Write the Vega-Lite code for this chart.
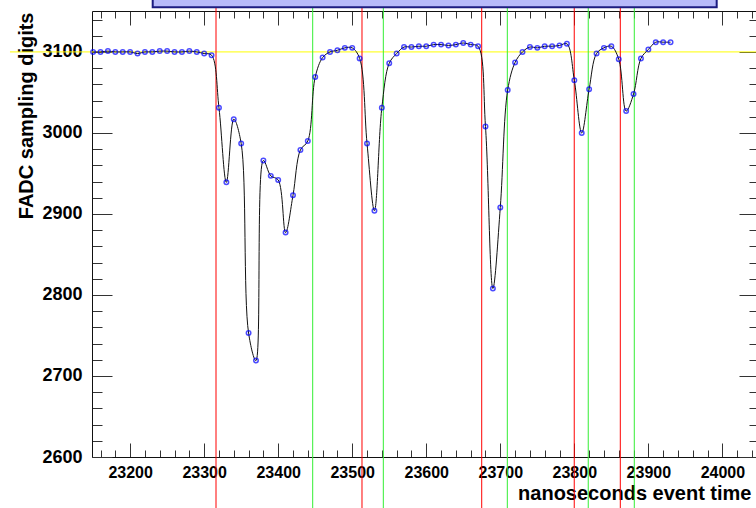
{
  "$schema": "https://vega.github.io/schema/vega-lite/v6.json",
  "width": 664,
  "height": 446,
  "autosize": "none",
  "padding": {"left": 92, "top": 11, "right": 0, "bottom": 51},
  "background": "white",
  "config": {
    "view": {"stroke": null},
    "axis": {
      "domainColor": "#111111",
      "domainWidth": 1,
      "tickColor": "#333333",
      "tickWidth": 1,
      "grid": false,
      "labelOverlap": false,
      "labelFlush": false,
      "labelFont": "Liberation Sans",
      "labelFontWeight": "bold",
      "labelColor": "#000000",
      "titleFont": "Liberation Sans",
      "titleFontWeight": "bold",
      "titleFontSize": 20,
      "titleColor": "#000000"
    }
  },
  "datasets": {
    "samples": [
      {"t": 23150, "v": 3100}, {"t": 23160, "v": 3100}, {"t": 23170, "v": 3101}, {"t": 23180, "v": 3100},
      {"t": 23190, "v": 3100}, {"t": 23200, "v": 3100}, {"t": 23210, "v": 3098}, {"t": 23220, "v": 3100},
      {"t": 23230, "v": 3100}, {"t": 23240, "v": 3101}, {"t": 23250, "v": 3101}, {"t": 23260, "v": 3100},
      {"t": 23270, "v": 3100}, {"t": 23280, "v": 3101}, {"t": 23290, "v": 3100}, {"t": 23300, "v": 3098},
      {"t": 23310, "v": 3096}, {"t": 23320, "v": 3031}, {"t": 23330, "v": 2939}, {"t": 23340, "v": 3017},
      {"t": 23350, "v": 2987}, {"t": 23360, "v": 2753}, {"t": 23370, "v": 2719}, {"t": 23380, "v": 2966},
      {"t": 23390, "v": 2947}, {"t": 23400, "v": 2942}, {"t": 23410, "v": 2877}, {"t": 23420, "v": 2923},
      {"t": 23430, "v": 2979}, {"t": 23440, "v": 2990}, {"t": 23450, "v": 3069}, {"t": 23460, "v": 3093},
      {"t": 23470, "v": 3100}, {"t": 23480, "v": 3102}, {"t": 23490, "v": 3105}, {"t": 23500, "v": 3105},
      {"t": 23510, "v": 3092}, {"t": 23520, "v": 2987}, {"t": 23530, "v": 2904}, {"t": 23540, "v": 3031},
      {"t": 23550, "v": 3086}, {"t": 23560, "v": 3098}, {"t": 23570, "v": 3106}, {"t": 23580, "v": 3106},
      {"t": 23590, "v": 3107}, {"t": 23600, "v": 3107}, {"t": 23610, "v": 3109}, {"t": 23620, "v": 3109},
      {"t": 23630, "v": 3108}, {"t": 23640, "v": 3109}, {"t": 23650, "v": 3111}, {"t": 23660, "v": 3109},
      {"t": 23670, "v": 3107}, {"t": 23680, "v": 3008}, {"t": 23690, "v": 2808}, {"t": 23700, "v": 2908},
      {"t": 23710, "v": 3053}, {"t": 23720, "v": 3087}, {"t": 23730, "v": 3100}, {"t": 23740, "v": 3106},
      {"t": 23750, "v": 3105}, {"t": 23760, "v": 3107}, {"t": 23770, "v": 3107}, {"t": 23780, "v": 3108},
      {"t": 23790, "v": 3110}, {"t": 23800, "v": 3065}, {"t": 23810, "v": 3000}, {"t": 23820, "v": 3054},
      {"t": 23830, "v": 3098}, {"t": 23840, "v": 3105}, {"t": 23850, "v": 3107}, {"t": 23860, "v": 3091},
      {"t": 23870, "v": 3027}, {"t": 23880, "v": 3048}, {"t": 23890, "v": 3092}, {"t": 23900, "v": 3103},
      {"t": 23910, "v": 3112}, {"t": 23920, "v": 3112}, {"t": 23930, "v": 3112}
    ],
    "markers": [
      {"t": 23316.0, "kind": "start"},
      {"t": 23446.6, "kind": "end"},
      {"t": 23513.2, "kind": "start"},
      {"t": 23542.0, "kind": "end"},
      {"t": 23674.9, "kind": "start"},
      {"t": 23709.5, "kind": "end"},
      {"t": 23799.9, "kind": "start"},
      {"t": 23818.8, "kind": "end"},
      {"t": 23862.1, "kind": "start"},
      {"t": 23881.0, "kind": "end"}
    ],
    "baseline": [{"level": 3100}],
    "titlebox": [{"name": "pave"}]
  },
  "layer": [
    {
      "data": {"name": "baseline"},
      "mark": {"type": "rule", "color": "#ffff00", "strokeWidth": 1},
      "encoding": {
        "y": {"field": "level", "type": "quantitative", "axis": null},
        "x": {"datum": 23037.7, "type": "quantitative", "axis": null},
        "x2": {"datum": 24100}
      }
    },
    {
      "data": {"name": "markers"},
      "mark": {"type": "rule", "strokeWidth": 1},
      "encoding": {
        "x": {
          "field": "t",
          "type": "quantitative",
          "axis": {
            "orient": "top",
            "values": [23160, 23180, 23200, 23220, 23240, 23260, 23280, 23300, 23320, 23340, 23360, 23380, 23400, 23420, 23440, 23460, 23480, 23500, 23520, 23540, 23560, 23580, 23600, 23620, 23640, 23660, 23680, 23700, 23720, 23740, 23760, 23780, 23800, 23820, 23840, 23860, 23880, 23900, 23920, 23940, 23960, 23980, 24000, 24020, 24040],
            "labels": false,
            "title": null,
            "tickSize": {"condition": {"test": "datum.value % 100 === 0", "value": -14}, "value": -7}
          }
        },
        "y": {
          "datum": 3158,
          "type": "quantitative",
          "axis": {
            "orient": "right",
            "offset": 3,
            "values": [2600, 2620, 2640, 2660, 2680, 2700, 2720, 2740, 2760, 2780, 2800, 2820, 2840, 2860, 2880, 2900, 2920, 2940, 2960, 2980, 3000, 3020, 3040, 3060, 3080, 3100, 3120, 3140],
            "labels": false,
            "title": null,
            "tickSize": {"condition": {"test": "datum.value % 100 === 0", "value": -20}, "value": -10}
          }
        },
        "y2": {"datum": 2530},
        "color": {
          "field": "kind",
          "type": "nominal",
          "scale": {"domain": ["start", "end"], "range": ["#ff0000", "#33ee33"]},
          "legend": null
        }
      }
    },
    {
      "data": {"name": "titlebox"},
      "mark": {"type": "rect", "fill": "#b7baf9", "stroke": "#1c1c80", "strokeWidth": 2},
      "encoding": {
        "x": {"datum": 23230.5, "type": "quantitative", "axis": null},
        "x2": {"datum": 23992.3},
        "y": {"datum": 3155.1, "type": "quantitative", "axis": null},
        "y2": {"datum": 3200}
      }
    },
    {
      "data": {"name": "samples"},
      "mark": {"type": "line", "interpolate": "catmull-rom", "color": "#111111", "strokeWidth": 1},
      "encoding": {
        "x": {
          "field": "t",
          "type": "quantitative",
          "scale": {"domain": [23148.5, 24045.4], "nice": false, "zero": false},
          "axis": {
            "orient": "bottom",
            "values": [23160, 23180, 23200, 23220, 23240, 23260, 23280, 23300, 23320, 23340, 23360, 23380, 23400, 23420, 23440, 23460, 23480, 23500, 23520, 23540, 23560, 23580, 23600, 23620, 23640, 23660, 23680, 23700, 23720, 23740, 23760, 23780, 23800, 23820, 23840, 23860, 23880, 23900, 23920, 23940, 23960, 23980, 24000, 24020, 24040],
            "format": "d",
            "labelExpr": "datum.value % 100 === 0 ? datum.label : ''",
            "labelFontSize": 16,
            "labelBaseline": "alphabetic",
            "labelPadding": 34,
            "tickSize": {"condition": {"test": "datum.value % 100 === 0", "value": -14}, "value": -7},
            "title": "nanoseconds event time",
            "titleAnchor": "end",
            "titleAlign": "right",
            "titleBaseline": "alphabetic",
            "titleX": 659,
            "titleY": 42
          }
        },
        "y": {
          "field": "v",
          "type": "quantitative",
          "scale": {"domain": [2600, 3150.5], "nice": false, "zero": false},
          "axis": {
            "orient": "left",
            "values": [2600, 2620, 2640, 2660, 2680, 2700, 2720, 2740, 2760, 2780, 2800, 2820, 2840, 2860, 2880, 2900, 2920, 2940, 2960, 2980, 3000, 3020, 3040, 3060, 3080, 3100, 3120, 3140],
            "format": "d",
            "labelExpr": "datum.value % 100 === 0 ? datum.label : ''",
            "labelFontSize": 18,
            "labelBaseline": "middle",
            "labelPadding": 30,
            "tickSize": {"condition": {"test": "datum.value % 100 === 0", "value": -20}, "value": -10},
            "title": "FADC sampling digits",
            "titleAngle": -90,
            "titleAnchor": "end",
            "titleAlign": "right",
            "titleBaseline": "alphabetic",
            "titleX": -59.5,
            "titleY": 1
          }
        }
      }
    },
    {
      "data": {"name": "samples"},
      "mark": {"type": "point", "shape": "circle", "filled": false, "color": "#0000ff", "strokeWidth": 1.5, "size": 20},
      "encoding": {
        "x": {"field": "t", "type": "quantitative", "axis": null},
        "y": {"field": "v", "type": "quantitative", "axis": null}
      }
    }
  ],
  "resolve": {"axis": {"x": "independent", "y": "independent"}}
}
